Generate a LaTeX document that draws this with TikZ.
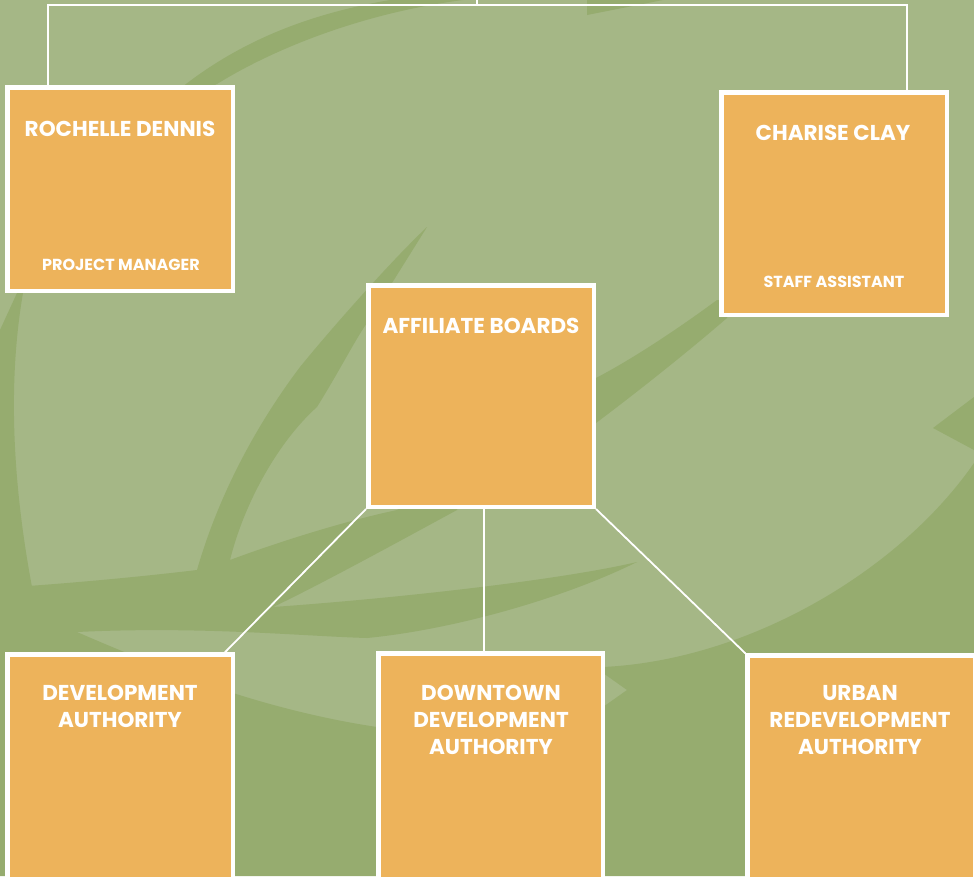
\documentclass[tikz,border=0pt]{standalone}
\usepackage{fontspec}
\setmainfont{Poppins}
\definecolor{leaflight}{HTML}{A5B786}
\definecolor{leafdark}{HTML}{96AC6F}
\definecolor{cardfill}{HTML}{EDB35B}
\tikzset{
  card/.style={draw=white, line width=4.5pt, fill=cardfill, minimum width=225.5pt, inner sep=0pt},
  link/.style={draw=white, line width=1.8pt},
  title/.style={text=white, inner sep=0pt, align=center, font=\fontsize{21.5}{27}\selectfont\bfseries},
  role/.style={text=white, inner sep=0pt, font=\fontsize{16}{18}\selectfont\bfseries},
}
\begin{document}
\begin{tikzpicture}[x=1pt,y=-1pt]
	\useasboundingbox (0,0) rectangle (974,876);
	\clip (0,0) rectangle (974,876);
	% leaf background
	\fill[leaflight] (0,0) rectangle (974,876);
	\fill[leafdark] (390,0) .. controls (320,12) and (250,35) .. (186,84)
		.. controls (110,140) and (50,220) .. (17,293) -- (0,330) -- (0,590) -- (32,587)
		.. controls (12,480) and (8,380) .. (23,293)
		.. controls (60,200) and (120,130) .. (217,84)
		.. controls (280,45) and (370,12) .. (463,0) -- cycle;
	\fill[leafdark] (587,0) -- (663,0) -- (587,15) -- cycle;
	\fill[leafdark] (427,227) .. controls (390,262) and (330,330) .. (300,367)
		.. controls (260,420) and (220,490) .. (197,570)
		.. controls (130,578) and (60,584) .. (0,588) -- (0,632) -- (77,632)
		.. controls (200,626) and (300,636) .. (367,638)
		.. controls (450,630) and (560,600) .. (637,562)
		.. controls (560,580) and (400,598) .. (273,607)
		.. controls (320,585) and (420,530) .. (457,510) -- (470,470) -- (397,510)
		.. controls (340,522) and (270,545) .. (230,560)
		.. controls (245,500) and (280,440) .. (317,407)
		.. controls (340,370) and (355,340) .. (367,323) -- (392,283) -- cycle;
	\fill[leafdark] (0,632) -- (77,632) .. controls (130,655) and (180,675) .. (233,693)
		.. controls (280,708) and (330,720) .. (377,727) -- (480,745) -- (603,707) -- (627,690)
		-- (603,673) -- (540,670) -- (603,667)
		.. controls (750,660) and (900,570) .. (974,463) -- (974,876) -- (0,876) -- cycle;
	\fill[leafdark] (974,397) -- (933,428) -- (974,450) -- cycle;
	\fill[leafdark] (596,378) .. controls (640,355) and (690,320) .. (717,300) -- (735,300) -- (727,318)
		.. controls (690,350) and (640,390) .. (596,423) -- cycle;
	% boxes
	\node[card, minimum height=203.5pt] (rochelle) at (120,189) {};
	\node[card, minimum height=222.5pt] (charise) at (834,203.5) {};
	\node[card, minimum height=221.5pt] (affiliate) at (481,396) {};
	\node[card, minimum height=245pt] (devauth) at (120,777) {};
	\node[card, minimum width=224.5pt, minimum height=245pt] (downtown) at (490.5,776) {};
	\node[card, minimum width=228pt, minimum height=245pt] (urban) at (861.5,778) {};
	% connectors
	\coordinate (top) at (477,0);
	\coordinate (barL) at (48,5);
	\coordinate (barR) at (907,5);
	\draw[link] (rochelle.north -| barL) -- (barL) -- (barR) -- (charise.north -| barR);
	\draw[link] (top) -- (top |- barL);
	\draw[link] (affiliate.south west) -- ([xshift=-10pt]devauth.north east);
	\draw[link] ([xshift=3pt]affiliate.south) -- ([xshift=3pt]affiliate.south |- downtown.north);
	\draw[link] (affiliate.south east) -- (urban.north west);
	% names
	\node[title, anchor=base] (rochelleName) at (120,136) {ROCHELLE DENNIS};
	\node[role, anchor=base] (rochelleRole) at (121,270) {PROJECT MANAGER};
	\node[title, anchor=base] (chariseName) at (833,140) {CHARISE CLAY};
	\node[role, anchor=base] (chariseRole) at (834,287) {STAFF ASSISTANT};
	\node[title, anchor=base] (affiliateName) at (481,333) {AFFILIATE BOARDS};
	\node[title, anchor=north] (devauthName) at (120,685) {DEVELOPMENT\\AUTHORITY};
	\node[title, anchor=north] (downtownName) at (491,685) {DOWNTOWN\\DEVELOPMENT\\AUTHORITY};
	\node[title, anchor=north] (urbanName) at (860,685) {URBAN\\REDEVELOPMENT\\AUTHORITY};
\end{tikzpicture}
\end{document}
